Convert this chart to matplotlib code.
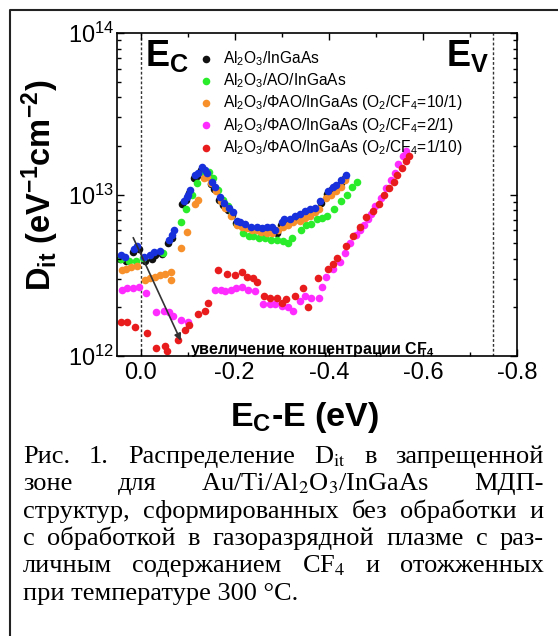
import matplotlib
matplotlib.use('Agg')
import matplotlib.pyplot as plt
from matplotlib.lines import Line2D
from matplotlib.ticker import LogLocator, MultipleLocator, NullFormatter

plt.rcParams['font.family'] = ['Liberation Sans', 'DejaVu Sans']
plt.rcParams['mathtext.fontset'] = 'custom'
plt.rcParams['mathtext.rm'] = 'Liberation Sans'
plt.rcParams['mathtext.bf'] = 'Liberation Sans:bold'
plt.rcParams['mathtext.it'] = 'Liberation Sans:italic'
plt.rcParams['axes.unicode_minus'] = False

# --- data: E_c - E (eV) and D_it (units of 1e12 eV^-1 cm^-2) ---
blue_x = [0.042, 0.032, 0.014, 0.008, -0.007, -0.021, -0.028, -0.042, -0.060, -0.067, -0.071,
          -0.092, -0.098, -0.101, -0.105, -0.116, -0.123, -0.130, -0.137, -0.141, -0.151, -0.158,
          -0.169, -0.177, -0.187, -0.196, -0.205, -0.211, -0.223, -0.235, -0.247, -0.258, -0.268,
          -0.279, -0.286, -0.300, -0.305, -0.317, -0.328, -0.339, -0.349, -0.360, -0.370, -0.381,
          -0.398, -0.409, -0.416, -0.425, -0.436]
blue_d = [4.2, 4.1, 4.6, 4.8, 4.1, 4.2, 4.4, 4.5, 5.2, 5.6, 6.0,
          9.1, 9.6, 10.0, 10.7, 13.2, 13.5, 14.8, 14.1, 13.5, 12.0, 11.2,
          9.6, 8.9, 8.3, 7.8, 6.9, 6.8, 6.6, 6.3, 6.3, 6.2, 6.3,
          6.3, 6.0, 6.8, 7.1, 7.1, 7.4, 7.6, 7.9, 8.1, 8.3, 9.1,
          10.5, 11.2, 11.5, 12.3, 13.2]

black_x = [0.044, 0.030, 0.016, 0.004, -0.009, -0.024, -0.031, -0.045, -0.058, -0.066,
           -0.089, -0.096, -0.103, -0.114, -0.121, -0.128, -0.135, -0.143, -0.149, -0.156,
           -0.167, -0.175, -0.185, -0.194, -0.203, -0.213, -0.225, -0.237, -0.249, -0.260,
           -0.270, -0.281, -0.289, -0.298, -0.307, -0.319, -0.330, -0.341, -0.351, -0.362,
           -0.372, -0.383, -0.396, -0.407, -0.418, -0.427, -0.434]
black_d = [4.0, 3.9, 4.4, 4.6, 3.9, 4.0, 4.2, 4.3, 5.0, 5.4,
           8.7, 9.3, 10.2, 12.6, 13.0, 14.2, 13.8, 13.0, 11.6, 10.8,
           9.3, 8.6, 8.0, 7.5, 6.7, 6.5, 6.3, 6.1, 6.0, 5.9,
           6.0, 6.0, 5.8, 6.5, 6.8, 6.9, 7.1, 7.4, 7.6, 7.8,
           8.0, 8.8, 10.1, 10.8, 11.1, 11.8, 12.6]

green_x = [0.042, 0.025, 0.009, -0.005, -0.048, -0.085, -0.097, -0.109, -0.120, -0.135,
           -0.146, -0.155, -0.165, -0.175, -0.185, -0.195, -0.205, -0.218, -0.230, -0.240,
           -0.252, -0.265, -0.277, -0.290, -0.302, -0.314, -0.322, -0.340, -0.352, -0.362,
           -0.374, -0.386, -0.397, -0.412, -0.425, -0.438, -0.450, -0.460]
green_d = [3.98, 3.89, 3.89, 4.07, 4.37, 6.76, 8.13, 10.0, 11.7, 13.5,
           13.8, 12.6, 10.7, 9.3, 8.5, 7.8, 6.6, 5.75, 5.55, 5.5,
           5.37, 5.37, 5.25, 5.25, 5.13, 5.0, 5.37, 6.0, 6.5, 6.6,
           7.1, 7.2, 7.4, 8.1, 9.1, 10.0, 11.2, 12.0]

orange_x = [0.040, 0.030, 0.020, 0.008, -0.010, -0.020, -0.030, -0.042, -0.052, -0.064,
            -0.064, -0.085, -0.099, -0.116, -0.123, -0.135, -0.142, -0.150, -0.160, -0.170,
            -0.180, -0.192, -0.205, -0.215, -0.226, -0.237, -0.247, -0.257, -0.268, -0.280,
            -0.292, -0.303, -0.313, -0.325, -0.339, -0.350, -0.360, -0.370, -0.380, -0.395,
            -0.405, -0.416, -0.425, -0.434]
orange_d = [3.39, 3.47, 3.55, 3.63, 2.95, 3.02, 3.09, 3.16, 3.24, 3.31,
            2.95, 4.68, 5.89, 8.7, 9.3, 12.6, 12.9, 11.7, 10.5, 9.1,
            8.3, 7.4, 6.5, 6.3, 6.2, 6.0, 6.0, 5.9, 5.75, 5.75,
            6.0, 6.3, 6.5, 6.8, 6.9, 7.2, 7.4, 7.8, 8.1, 9.5,
            10.0, 10.5, 11.2, 12.3]

magenta_x = [0.040, 0.028, 0.015, 0.004, -0.011, -0.032, -0.049, -0.060, -0.070, -0.085,
             -0.100, -0.159, -0.170, -0.180, -0.192, -0.203, -0.215, -0.229, -0.243, -0.261,
             -0.275, -0.285, -0.300, -0.313, -0.325, -0.339, -0.349, -0.363, -0.379, -0.386,
             -0.395, -0.410, -0.423, -0.434, -0.446, -0.457, -0.466, -0.474, -0.483, -0.490,
             -0.499, -0.511, -0.522, -0.533, -0.540, -0.548, -0.557, -0.564]
magenta_d = [2.57, 2.63, 2.63, 2.69, 2.45, 1.86, 1.91, 1.86, 1.78, 1.66,
             1.62, 2.57, 2.57, 2.51, 2.57, 2.63, 2.69, 2.57, 2.51, 2.09,
             2.09, 2.09, 2.04, 2.0, 1.91, 2.19, 2.34, 2.29, 2.29, 2.69,
             3.09, 3.47, 3.80, 4.37, 5.0, 5.62, 6.0, 6.46, 7.08, 7.59,
             8.5, 9.55, 11.0, 12.3, 13.5, 15.5, 17.4, 18.6]

red_x = [0.042, 0.028, 0.011, -0.013, -0.032, -0.053, -0.056, -0.080, -0.095, -0.102,
         -0.123, -0.138, -0.144, -0.165, -0.183, -0.201, -0.215, -0.226, -0.239, -0.247,
         -0.262, -0.275, -0.290, -0.300, -0.310, -0.329, -0.345, -0.356, -0.377, -0.398,
         -0.408, -0.417, -0.436, -0.451, -0.467, -0.480, -0.493, -0.506, -0.518, -0.527,
         -0.538, -0.546, -0.556, -0.564, -0.571]
red_d = [1.62, 1.62, 1.51, 1.38, 1.12, 1.15, 1.07, 1.26, 1.45, 1.55,
         1.82, 1.91, 2.14, 3.39, 3.24, 3.16, 3.31, 3.09, 3.02, 2.88,
         2.34, 2.29, 2.29, 2.14, 2.24, 2.34, 2.63, 2.0, 3.02, 3.47,
         3.72, 4.07, 4.79, 5.5, 6.3, 7.24, 7.94, 8.7, 10.0, 11.0,
         12.0, 13.2, 14.5, 16.2, 17.4]

labels = ['Al$_2$O$_3$/InGaAs',
          'Al$_2$O$_3$/AO/InGaAs',
          'Al$_2$O$_3$/ΦAO/InGaAs (O$_2$/CF$_4$=10/1)',
          'Al$_2$O$_3$/ΦAO/InGaAs (O$_2$/CF$_4$=2/1)',
          'Al$_2$O$_3$/ΦAO/InGaAs (O$_2$/CF$_4$=1/10)']

band_edges = [0.0, -0.75]
arrow_start = (0.018, 5.6e12)
arrow_end = (-0.088, 1.2e12)

caption = [
    ['Рис.', '1.', 'Распределение', 'D$_{\\mathrm{it}}$', 'в', 'запрещенной'],
    ['зоне', 'для', 'Au/Ti/Al$_2$O$_3$/InGaAs', 'МДП-'],
    ['структур,', 'сформированных', 'без', 'обработки', 'и'],
    ['с', 'обработкой', 'в', 'газоразрядной', 'плазме', 'с', 'раз-'],
    ['личным', 'содержанием', 'CF$_4$', 'и', 'отожженных'],
    ['при температуре 300 °C.'],
]

W, H = 558, 636
fig = plt.figure(figsize=(W / 100, H / 100), dpi=100)
ax = fig.add_axes([117 / W, 1 - 356 / H, 400 / W, 323 / H])

sc = dict(s=30, linewidths=0)
ax.scatter(black_x, [v * 1e12 for v in black_d], color='#111111', label=labels[0], **sc)
ax.scatter(green_x, [v * 1e12 for v in green_d], color='#2aec2a', label=labels[1], **sc)
ax.scatter(orange_x, [v * 1e12 for v in orange_d], color='#f7902a', label=labels[2], **sc)
ax.scatter(magenta_x, [v * 1e12 for v in magenta_d], color='#ff2cff', label=labels[3], **sc)
ax.scatter(red_x, [v * 1e12 for v in red_d], color='#e81c1c', label=labels[4], **sc)
ax.scatter(blue_x, [v * 1e12 for v in blue_d], color='#1830dc', **sc)

for e in band_edges:
    ax.axvline(e, color='#333333', lw=1, ls=(0, (2, 1.5)), zorder=0)

ax.set_yscale('log')
ax.set_xlim(0.05, -0.8)
ax.set_ylim(1e12, 1e14)
ax.xaxis.set_major_locator(MultipleLocator(0.2))
ax.xaxis.set_minor_locator(MultipleLocator(0.1))
ax.yaxis.set_minor_locator(LogLocator(base=10, subs=range(2, 10)))
ax.yaxis.set_minor_formatter(NullFormatter())
ax.xaxis.set_major_formatter(plt.FuncFormatter(lambda v, p: '%.1f' % v))
ax.tick_params(which='both', direction='in', top=True, right=True, labelsize=17, width=1)
ax.tick_params(which='major', length=5)
ax.tick_params(which='minor', length=3)
ax.tick_params(axis='y', pad=2)
ax.tick_params(axis='x', pad=4)
for s in ax.spines.values():
    s.set_linewidth(1.2)

ax.set_ylabel(r'D$_{\mathbf{it}}$ (eV$^{\mathbf{-1}}$cm$^{\mathbf{-2}}$)',
              fontsize=23.5, fontweight='bold')
ax.yaxis.set_label_coords(-0.14, 0.53)
ax.set_xlabel(r'E$_{\mathbf{C}}$-E (eV)', fontsize=24.5, fontweight='bold')
ax.xaxis.set_label_coords(0.47, -0.135)

ax.text(0.07, 0.985, r'E$_{\mathbf{C}}$', transform=ax.transAxes, fontsize=26,
        fontweight='bold', ha='left', va='top')
ax.text(0.93, 0.985, r'E$_{\mathbf{V}}$', transform=ax.transAxes, fontsize=26,
        fontweight='bold', ha='right', va='top')

ax.annotate('', xy=arrow_end, xytext=arrow_start,
            arrowprops=dict(arrowstyle='-|>', color='#333333', lw=1.2, mutation_scale=10))
ax.text(-0.106, 1.1e12, 'увеличение концентрации CF$_\\mathbf{4}$', fontsize=11.5,
        fontweight='bold', ha='left', va='center')

ax.legend(loc='upper left', bbox_to_anchor=(0.163, 0.975), frameon=False, fontsize=11.2,
          handletextpad=0.1, labelspacing=0.22, borderpad=0, markerscale=1)

# frame around figure + caption
fig.add_artist(Line2D([10 / W, 10 / W, 1], [0, 1 - 10 / H, 1 - 10 / H],
                      transform=fig.transFigure, color='#222222', lw=1.5))

cap_x0, cap_x1 = 23, 544
cap_base = [463, 490, 518, 545, 572, 600]
fig.canvas.draw()
r = fig.canvas.get_renderer()
for i, words in enumerate(caption):
    yb = 1 - cap_base[i] / H
    texts = [fig.text(cap_x0 / W, yb, w, fontsize=19, family='Liberation Serif',
                      math_fontfamily='stix', va='baseline') for w in words]
    if len(words) < 2:
        continue
    widths = [t.get_window_extent(r).width for t in texts]
    gap = (cap_x1 - cap_x0 - sum(widths)) / (len(words) - 1)
    x = cap_x0
    for t, w in zip(texts, widths):
        t.set_x(x / W)
        x += w + gap

fig.savefig('out.png', dpi=100)
